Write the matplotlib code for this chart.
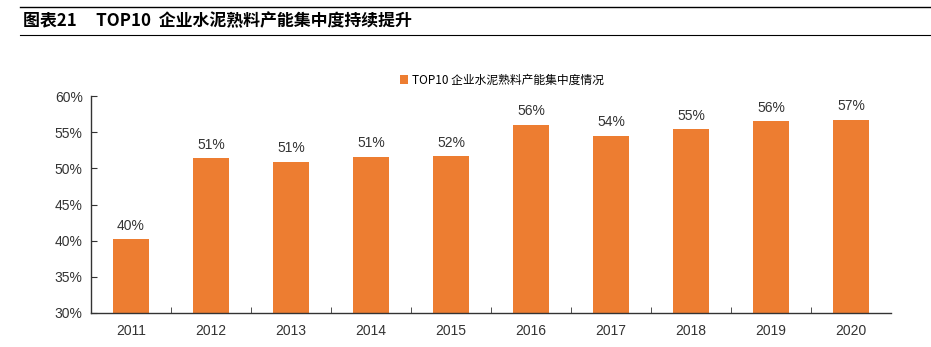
import matplotlib
matplotlib.use("Agg")
import matplotlib.pyplot as plt
import numpy as np

plt.rcParams['font.family'] = ['Liberation Sans', 'Noto Sans CJK SC', 'DejaVu Sans']

### chart data
years = ['2011', '2012', '2013', '2014', '2015', '2016', '2017', '2018', '2019', '2020']
share = [40.2, 51.4, 50.9, 51.6, 51.7, 56.0, 54.5, 55.4, 56.5, 56.7]
labels = ['40%', '51%', '51%', '51%', '52%', '56%', '54%', '55%', '56%', '57%']
yticks = [30, 35, 40, 45, 50, 55, 60]
series_name = 'TOP10 企业水泥熟料产能集中度情况'
title = '图表21     TOP10  企业水泥熟料产能集中度持续提升'

W, H = 931, 347
fig = plt.figure(figsize=(W / 100, H / 100), dpi=100)

### heading with rules above and below
fig.add_artist(plt.Line2D([20 / W, 1], [1 - 7 / H, 1 - 7 / H], color='black', lw=1.0))
fig.add_artist(plt.Line2D([20 / W, 1], [1 - 35 / H, 1 - 35 / H], color='black', lw=0.8))
fig.text(23 / W, 1 - 21 / H, title, fontsize=12.2, fontweight='bold',
         family=['Noto Sans CJK SC'], va='center', ha='left')

ax = fig.add_axes([91 / W, 1 - 313 / H, 800 / W, 217 / H])
x = np.arange(len(years))
bars = ax.bar(x, share, width=0.44, color='#ED7D31', bottom=0, label=series_name)

for xi, v, t in zip(x, share, labels):
    ax.text(xi, v + 0.9, t, ha='center', va='bottom', fontsize=10, color='#333333')

ax.set_xlim(-0.5, len(years) - 0.5)
ax.set_ylim(30, 60)
ax.set_yticks(yticks)
ax.set_yticklabels(['%d%%' % t for t in yticks], fontsize=10, color='#333333')
ax.set_xticks(x)
ax.set_xticklabels(years, fontsize=10, color='#333333')
ax.set_xticks(np.arange(len(years) - 1) + 0.5, minor=True)
ax.tick_params(axis='x', which='major', length=0, pad=8)
ax.tick_params(axis='x', which='minor', direction='in', length=4, color='#333333')
ax.tick_params(axis='y', direction='in', length=4, color='#333333', pad=6)

for s in ['top', 'right']:
    ax.spines[s].set_visible(False)
for s in ['left', 'bottom']:
    ax.spines[s].set_color('#333333')
    ax.spines[s].set_linewidth(1.0)

leg = ax.legend(loc='center', bbox_to_anchor=(0.5 + 11 / 800, 1 + 16 / 217), frameon=False,
                handlelength=0.7, handleheight=0.7, handletextpad=0.3,
                prop={'family': ['Noto Sans CJK SC'], 'size': 8.5})

fig.savefig('out.png', dpi=100)
